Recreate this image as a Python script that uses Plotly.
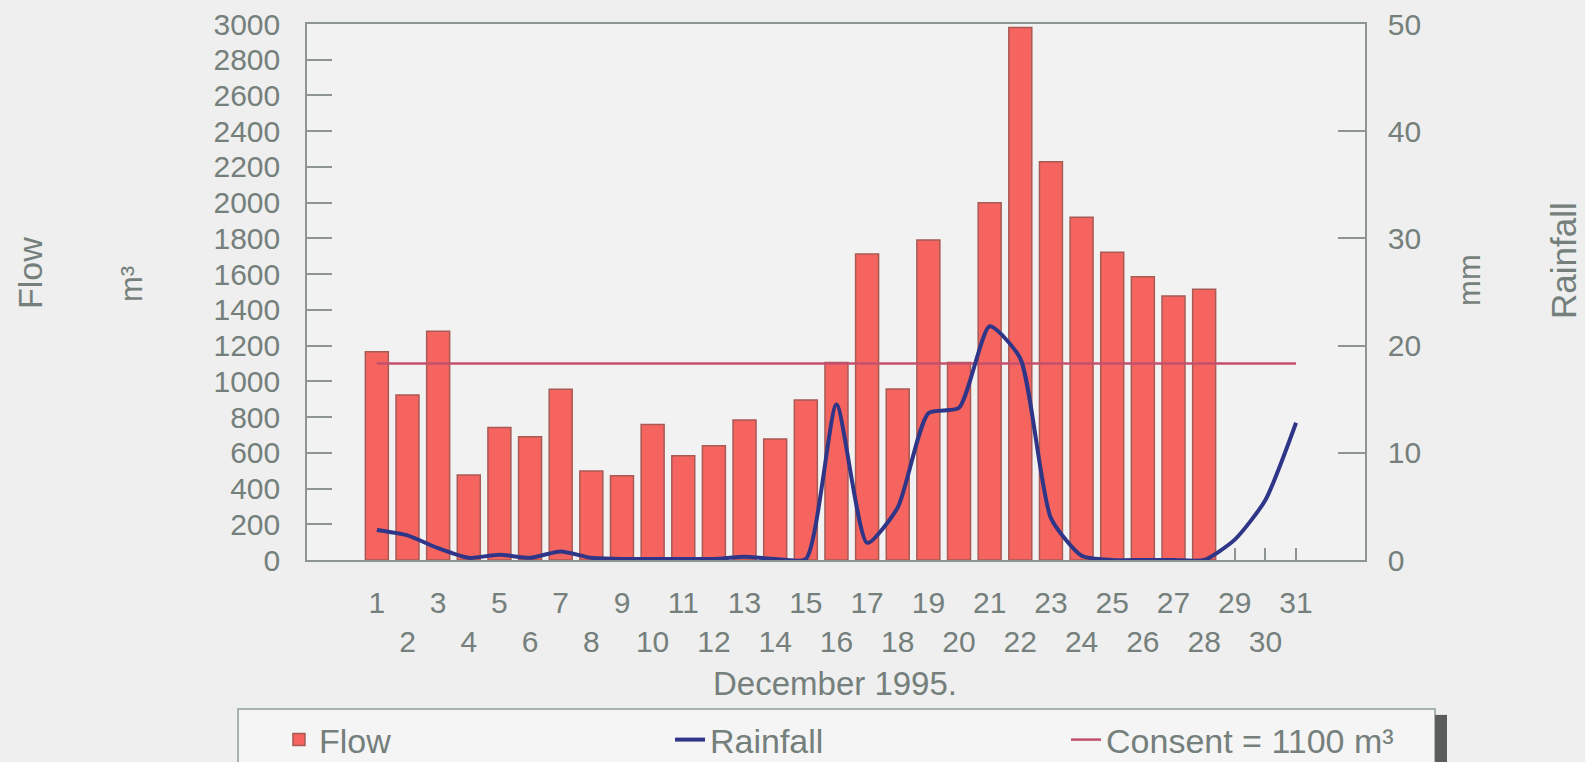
import plotly.graph_objects as go

# ---- data ----
days = list(range(1, 32))
flow = [1166, 923, 1280, 476, 741, 690, 955, 498, 472, 759, 584, 640, 784, 677, 895,
        1105, 1713, 957, 1791, 1105, 2000, 2981, 2229, 1918, 1722, 1586, 1478, 1515,
        None, None, None]
rainfall = [2.8, 2.3, 1.1, 0.2, 0.5, 0.2, 0.8, 0.2, 0.1, 0.1, 0.1, 0.1, 0.3, 0.1, 0.1,
            14.5, 1.6, 4.9, 13.7, 14.2, 21.8, 18.8, 3.9, 0.4, 0.0, 0.0, 0.0, 0.0,
            1.9, 5.6, 12.8]
consent_value = 1100
flow_ticks = list(range(0, 3001, 200))
rain_ticks = [0, 10, 20, 30, 40, 50]
x_ticktext = [str(d) if d % 2 == 1 else "<br>" + str(d) for d in days]

FONT = "Liberation Sans, Arial, sans-serif"
TXT = "#757f7c"
AX = "#8e9491"
BG = "#eeefee"

fig = go.Figure()
fig.add_trace(go.Bar(
    x=days, y=flow, name="Flow", width=0.75,
    marker=dict(color="#f5645e", line=dict(color="#a85a55", width=1.5)),
    legend="legend", yaxis="y"))
fig.add_trace(go.Scatter(
    x=[days[0], days[-1]], y=[consent_value, consent_value], mode="lines",
    name="Consent = 1100 m³", line=dict(color="#c4506e", width=2.5),
    legend="legend3", yaxis="y"))
fig.add_trace(go.Scatter(
    x=days, y=rainfall, mode="lines", name="Rainfall",
    line=dict(color="#2f3688", width=4, shape="spline", smoothing=0.6),
    legend="legend2", yaxis="y2"))

leg_common = dict(xanchor="left", yanchor="middle", y=-0.3358,
                  bgcolor="rgba(0,0,0,0)", font=dict(size=34, color=TXT))

fig.update_layout(
    width=1577, height=754,
    margin=dict(l=299, r=220, t=16, b=202, autoexpand=False),
    paper_bgcolor=BG, plot_bgcolor="#f1f2f1",
    font=dict(family=FONT, size=30, color=TXT),
    showlegend=True,
    xaxis=dict(range=[-1.28, 33.25], tickmode="array", tickvals=days, ticktext=x_ticktext,
               tickangle=0, ticks="inside", ticklen=12, tickcolor=AX, tickwidth=1.5,
               showline=True, linecolor=AX, linewidth=1.5, mirror=True,
               showgrid=False, zeroline=False, ticklabelstandoff=15,
               layer="below traces", automargin=False,
               tickfont=dict(size=30, color=TXT)),
    yaxis=dict(range=[0, 3000], tickmode="array", tickvals=flow_ticks,
               ticks="inside", ticklen=25, tickcolor=AX, tickwidth=1.5,
               showline=True, linecolor=AX, linewidth=1.5, automargin=False,
               showgrid=False, zeroline=False, ticklabelstandoff=19,
               ticklabeloverflow="allow",
               tickfont=dict(size=30, color=TXT)),
    yaxis2=dict(range=[0, 50], overlaying="y", side="right", tickmode="array",
                tickvals=rain_ticks, ticks="inside", ticklen=27, tickcolor=AX, tickwidth=1.5,
                showline=True, linecolor=AX, linewidth=1.5, automargin=False,
                showgrid=False, zeroline=False, ticklabelstandoff=15,
                ticklabeloverflow="allow",
                tickfont=dict(size=30, color=TXT)),
    legend=dict(x=-0.0265, **leg_common),
    legend2=dict(x=0.3431, **leg_common),
    legend3=dict(x=0.7174, **leg_common),
    shapes=[
        dict(type="rect", xref="paper", yref="paper", x0=-0.0652, x1=1.0662,
             y0=-0.278, y1=-0.40, line=dict(color="#8fa096", width=1.5),
             fillcolor="#f4f5f4", layer="below"),
        dict(type="rect", xref="paper", yref="paper", x0=1.0662, x1=1.0775,
             y0=-0.289, y1=-0.40, line=dict(width=0), fillcolor="#5a5c5b"),
    ],
    annotations=[
        dict(text="Flow", xref="paper", yref="paper", x=-0.2618, y=0.5354,
             xanchor="center", yanchor="middle",
             textangle=-90, showarrow=False, font=dict(size=34, color=TXT)),
        dict(text="m³", xref="paper", yref="paper", x=-0.1664, y=0.5149,
             xanchor="center", yanchor="middle",
             textangle=-90, showarrow=False, font=dict(size=31, color=TXT)),
        dict(text="mm", xref="paper", yref="paper", x=1.0992, y=0.5224,
             xanchor="center", yanchor="middle",
             textangle=-90, showarrow=False, font=dict(size=31, color=TXT)),
        dict(text="Rainfall", xref="paper", yref="paper", x=1.1871, y=0.5597,
             xanchor="center", yanchor="middle",
             textangle=-90, showarrow=False, font=dict(size=35, color=TXT)),
        dict(text="December 1995.", xref="paper", yref="paper", x=0.4988, y=-0.231,
             xanchor="center", yanchor="middle", showarrow=False,
             font=dict(size=33, color=TXT)),
    ],
)

fig.write_html("out.html",
               post_script="document.body.style.backgroundColor='%s';" % BG)
